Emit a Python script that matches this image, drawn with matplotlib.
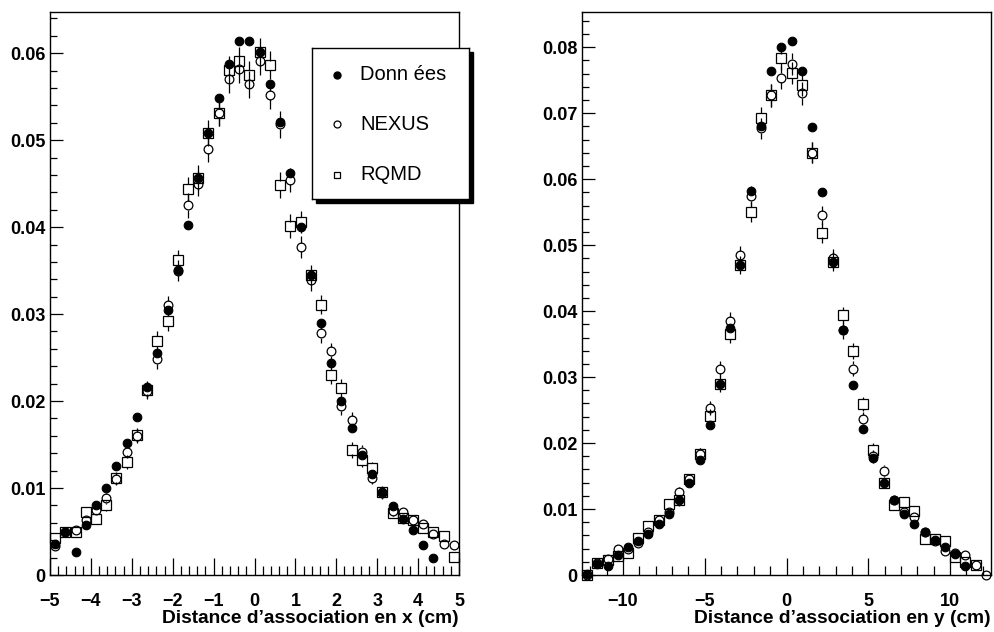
import numpy as np
import matplotlib
matplotlib.use("Agg")
import matplotlib.pyplot as plt
from matplotlib.ticker import MultipleLocator, FuncFormatter
from matplotlib.patches import Rectangle
from matplotlib.lines import Line2D

plt.rcParams['font.family'] = ['Liberation Sans', 'DejaVu Sans']

nan = np.nan
# ---------------- left panel: distance in x (40 bins, -5..5) ----------------
x_edges_left = (-5.0, 5.0)
n_bins_left = 40
data_x = [0.0036, 0.0049, 0.0027, 0.0058, 0.0080, 0.0100, 0.0125, 0.0152, 0.0182, 0.0216,
          0.0255, 0.0305, 0.0351, 0.0402, 0.0456, 0.0508, 0.0549, 0.0588, 0.0614, 0.0614,
          0.0601, 0.0565, 0.0521, 0.0462, 0.0400, 0.0345, 0.0290, 0.0244, 0.0200, 0.0169,
          0.0138, 0.0116, 0.0095, 0.0079, 0.0064, 0.0052, 0.0035, 0.0019, nan, nan]
nexus_x = [0.0033, 0.0050, 0.0052, 0.0063, 0.0075, 0.0088, 0.0110, 0.0142, 0.0160, 0.0212,
           0.0248, 0.0310, 0.0350, 0.0425, 0.0450, 0.0490, 0.0531, 0.0570, 0.0582, 0.0564,
           0.0591, 0.0552, 0.0518, 0.0454, 0.0377, 0.0339, 0.0278, 0.0257, 0.0194, 0.0178,
           0.0142, 0.0112, 0.0094, 0.0074, 0.0073, 0.0063, 0.0059, 0.0047, 0.0036, 0.0034]
rqmd_x = [0.0042, 0.0049, 0.0049, 0.0072, 0.0064, 0.0080, 0.0112, 0.0130, 0.0161, 0.0213,
          0.0269, 0.0292, 0.0362, 0.0444, 0.0457, 0.0508, 0.0531, 0.0581, 0.0591, 0.0575,
          0.0601, 0.0586, 0.0448, 0.0401, 0.0406, 0.0345, 0.0311, 0.0230, 0.0215, 0.0144,
          0.0132, 0.0123, 0.0095, 0.0071, 0.0066, 0.0063, 0.0054, 0.0050, 0.0045, 0.0021]
err_x = [0.0004, 0.0004, 0.0004, 0.0005, 0.0005, 0.0006, 0.0007, 0.0008, 0.0008, 0.0010,
         0.0011, 0.0011, 0.0012, 0.0014, 0.0014, 0.0015, 0.0015, 0.0016, 0.0016, 0.0016,
         0.0016, 0.0016, 0.0015, 0.0014, 0.0013, 0.0012, 0.0011, 0.0010, 0.0010, 0.0009,
         0.0008, 0.0007, 0.0007, 0.0006, 0.0005, 0.0005, 0.0005, 0.0004, 0.0004, 0.0004]

# ---------------- right panel: distance in y (40 bins, -12.5..12.5) ----------------
x_edges_right = (-12.5, 12.5)
n_bins_right = 40
data_y = [0.0002, 0.0016, 0.0013, 0.0030, 0.0042, 0.0052, 0.0062, 0.0078, 0.0092, 0.0113,
          0.0139, 0.0175, 0.0228, 0.0289, 0.0374, 0.0470, 0.0582, 0.0680, 0.0764, 0.0801,
          0.0809, 0.0764, 0.0679, 0.0581, 0.0475, 0.0372, 0.0288, 0.0222, 0.0177, 0.0140,
          0.0114, 0.0092, 0.0078, 0.0065, 0.0053, 0.0043, 0.0032, 0.0013, nan, nan]
nexus_y = [0.0000, 0.0018, 0.0025, 0.0040, 0.0040, 0.0048, 0.0065, 0.0083, 0.0095, 0.0126,
           0.0145, 0.0184, 0.0253, 0.0312, 0.0385, 0.0485, 0.0574, 0.0677, 0.0727, 0.0754,
           0.0775, 0.0730, 0.0640, 0.0545, 0.0480, 0.0371, 0.0313, 0.0236, 0.0180, 0.0158,
           0.0114, 0.0096, 0.0088, 0.0065, 0.0052, 0.0037, 0.0034, 0.0030, 0.0015, 0.0000]
rqmd_y = [0.0000, 0.0018, 0.0022, 0.0029, 0.0034, 0.0056, 0.0075, 0.0083, 0.0107, 0.0113,
          0.0145, 0.0184, 0.0241, 0.0289, 0.0365, 0.0470, 0.0550, 0.0693, 0.0727, 0.0783,
          0.0761, 0.0743, 0.0640, 0.0519, 0.0475, 0.0394, 0.0339, 0.0259, 0.0190, 0.0140,
          0.0106, 0.0110, 0.0097, 0.0054, 0.0054, 0.0052, 0.0028, 0.0020, 0.0015, nan]
err_y = [0.0003, 0.0003, 0.0004, 0.0004, 0.0005, 0.0005, 0.0006, 0.0006, 0.0007, 0.0008,
         0.0008, 0.0009, 0.0011, 0.0012, 0.0013, 0.0014, 0.0015, 0.0016, 0.0017, 0.0017,
         0.0017, 0.0017, 0.0016, 0.0015, 0.0014, 0.0013, 0.0012, 0.0011, 0.0010, 0.0008,
         0.0007, 0.0007, 0.0006, 0.0006, 0.0005, 0.0005, 0.0004, 0.0004, 0.0003, 0.0003]

legend_labels = ["Donn ées", "NEXUS", "RQMD"]
xlabel_left = "Distance d\u2019association en x (cm)"
xlabel_right = "Distance d\u2019association en y (cm)"

W, H = 994, 632
fig = plt.figure(figsize=(W / 100, H / 100), dpi=100)

def px_axes(l, t, r, b):
    return [l / W, 1 - b / H, (r - l) / W, (b - t) / H]

ax_l = fig.add_axes(px_axes(50, 12.3, 459, 575))
ax_r = fig.add_axes(px_axes(582, 12.3, 991, 575))

def centers(edges, n):
    e = np.linspace(edges[0], edges[1], n + 1)
    return 0.5 * (e[:-1] + e[1:])

def int_fmt(v, pos):
    return f"{int(round(v))}".replace("-", "\u2212")

def y_fmt(v, pos):
    return "0" if abs(v) < 1e-12 else f"{v:.2f}"

def draw_errs(ax, x, v, e, half_px, ax_h_px):
    y0, y1 = ax.get_ylim()
    h = half_px * (y1 - y0) / ax_h_px
    x = np.asarray(x); v = np.asarray(v, float); e = np.asarray(e, float)
    m = np.isfinite(v) & (e > h)
    ax.vlines(x[m], v[m] + h, v[m] + e[m], color='black', lw=0.9, zorder=2)
    ax.vlines(x[m], v[m] - e[m], v[m] - h, color='black', lw=0.9, zorder=2)

def panel(ax, edges, nb, d, nx, rq, err, xlim, ylim, xmaj, xmin_, xlabel):
    xc = centers(edges, nb)
    ax.set_xlim(*xlim)
    ax.set_ylim(*ylim)
    ax_h_px = 575 - 12.3
    draw_errs(ax, xc, nx, err, 4.3, ax_h_px)
    draw_errs(ax, xc, rq, err, 4.7, ax_h_px)
    ax.plot(xc, d, ls='none', marker='o', ms=6.2, mfc='black', mec='black', mew=0.8,
            clip_on=False, zorder=3)
    ax.plot(xc, nx, ls='none', marker='o', ms=6.3, mfc='none', mec='black', mew=0.9,
            clip_on=False, zorder=4)
    ax.plot(xc, rq, ls='none', marker='s', ms=6.6, mfc='none', mec='black', mew=0.9,
            clip_on=False, zorder=5)
    ax.xaxis.set_major_locator(MultipleLocator(xmaj))
    ax.xaxis.set_minor_locator(MultipleLocator(xmin_))
    ax.yaxis.set_major_locator(MultipleLocator(0.01))
    ax.yaxis.set_minor_locator(MultipleLocator(0.002))
    ax.xaxis.set_major_formatter(FuncFormatter(int_fmt))
    ax.yaxis.set_major_formatter(FuncFormatter(y_fmt))
    ax.tick_params(axis='x', which='major', direction='in', length=12, width=0.9,
                   pad=13, labelsize=13, top=False)
    ax.tick_params(axis='x', which='minor', direction='in', length=6.5, width=0.9, top=False)
    ax.tick_params(axis='y', which='major', direction='in', length=9.5, width=0.9,
                   pad=3, labelsize=13, right=False)
    ax.tick_params(axis='y', which='minor', direction='in', length=5, width=0.9, right=False)
    for lab in ax.get_xticklabels() + ax.get_yticklabels():
        lab.set_fontweight('bold')
    for s in ax.spines.values():
        s.set_linewidth(1.0)
    ax.set_xlabel(xlabel, loc='right', fontsize=13.8, fontweight='bold', labelpad=0)

panel(ax_l, x_edges_left, n_bins_left, data_x, nexus_x, rqmd_x, err_x,
      (-5, 5), (0, 0.0647), 1, 0.2, xlabel_left)
panel(ax_r, x_edges_right, n_bins_right, data_y, nexus_y, rqmd_y, err_y,
      (-12.5, 12.5), (0, 0.0853), 5, 1, xlabel_right)

# ---------------- legend box with ROOT-style shadow ----------------
lg_l, lg_t, lg_r, lg_b = 312, 48, 469, 199
shadow = Rectangle(((lg_l + 4) / W, 1 - (lg_b + 4) / H), (lg_r - lg_l) / W, (lg_b - lg_t) / H,
                   transform=fig.transFigure, facecolor='black', edgecolor='black', zorder=10)
fig.add_artist(shadow)
lax = fig.add_axes(px_axes(lg_l, lg_t, lg_r, lg_b), zorder=11)
lax.set_xlim(lg_l, lg_r)
lax.set_ylim(lg_b, lg_t)
lax.set_xticks([]); lax.set_yticks([])
lax.set_facecolor('white')
for s in lax.spines.values():
    s.set_linewidth(1.0)
rows = [75, 124, 175]
styles = [dict(marker='o', ms=5, mfc='black', mec='black'),
          dict(marker='o', ms=5, mfc='none', mec='black', mew=0.9),
          dict(marker='s', ms=5, mfc='none', mec='black', mew=0.9)]
for yrow, lab, st in zip(rows, legend_labels, styles):
    lax.add_line(Line2D([337], [yrow], ls='none', **st))
    lax.text(360, yrow, lab, fontsize=14.5, va='center', ha='left')

fig.savefig("out.png", dpi=100)
